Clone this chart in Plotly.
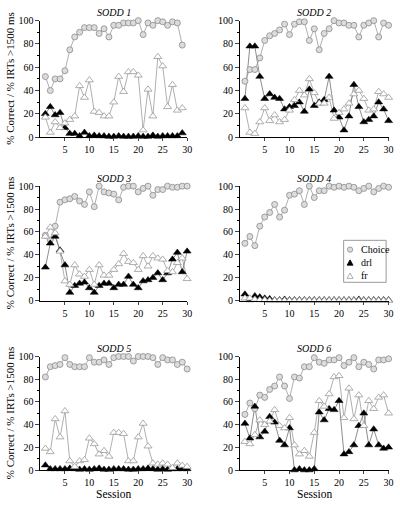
import plotly.graph_objects as go

sessions_29 = list(range(1, 30))
sessions_30 = list(range(1, 31))

# SODD 1 (29 sessions)
s1_choice = [52, 40, 50, 50, 57, 75, 86, 90, 94, 94, 94, 89, 93, 86, 96, 96, 98, 98, 98, 100, 88, 98, 96, 100, 99, 96, 99, 98, 79]
s1_drl = [20, 26, 19, 21, 8, 3, 3, 1, 4, 1, 1.5, 1, 1, 0.5, 0.5, 1, 0.5, 0.5, 0.5, 1, 0.5, 0.5, 1.5, 0.5, 1, 1, 1, 1, 3.5]
s1_fr = [17, 4, 13, 8, 12, 15, 18, 44, 34, 49, 22, 21, 18, 18, 30, 52, 39, 56, 56, 53, 6, 41, 18, 69, 61, 26, 45, 23, 25]

# SODD 2
s2_choice = [48, 58, 58, 68, 83, 87, 89, 92, 97, 88, 97, 99, 99, 83, 93, 75, 89, 93, 100, 98, 98, 96, 96, 86, 96, 98, 100, 86, 98, 96]
s2_drl = [33, 78, 78, 52, 33, 37, 34, 33, 24, 26, 27, 30, 22, 41, 27, 30, 32, 52, 23, 17, 6, 18, 45, 26, 13, 15, 18, 30, 24, 14]
s2_fr = [25, 4, 3, 13, 25, 14, 19, 13, 15, 23, 32, 40, 36, 50, 38, 29, 29, 34, 16, 21, 24, 29, 37, 40, 33, 23, 24, 39, 37, 34]

# SODD 3
s3_choice = [57, 53, 65, 86, 88, 89, 91, 87, 84, 95, 82, 100, 95, 94, 93, 88, 99, 100, 100, 95, 98, 100, 92, 97, 97, 100, 99, 99, 100, 100]
s3_drl = [29, 50, 56, 44, 31, 7, 13, 15, 16, 11, 7, 13, 15, 15, 11, 14, 14, 21, 14, 11, 17, 18, 20, 24, 18, 24, 36, 42, 25, 43]
s3_fr = [56, 64, 59, 43, 17, 14, 31, 23, 21, 27, 14, 31, 22, 22, 27, 32, 41, 34, 33, 27, 39, 30, 39, 37, 36, 26, 25, 33, 37, 19]

# SODD 4
s4_choice = [50, 56, 48, 65, 73, 77, 84, 73, 79, 92, 93, 96, 84, 100, 90, 96, 96, 100, 99, 100, 99, 100, 99, 96, 98, 100, 95, 98, 100, 99]
s4_drl = [5.5, 0.5, 4, 3, 2, 1.5, 0.5, 0.5, 1, 0.5, 0.5, 0.5, 0.5, 0.5, 0.5, 0.5, 0.5, 0.5, 0.5, 0.5, 0.5, 0.5, 0.5, 1, 0.5, 0.5, 0.5, 0.5, 0.5, 0.5]
s4_fr = [2, 2, 1, 0.5, 0.5, 0, 0, 0, 0, 0, 0, 0, 0, 0, 0, 0, 0, 0, 0, 0, 0, 0, 0, 0, 0, 0, 0, 0, 0, 0]

# SODD 5
s5_choice = [82, 91, 92, 93, 99, 93, 91, 91, 91, 99, 95, 95, 97, 93, 99, 100, 100, 100, 96, 100, 100, 100, 99, 93, 99, 97, 97, 93, 95, 89]
s5_drl = [4.3, 1, 1, 1, 1, 1.5, 1, 0.5, 1, 0.5, 1, 1.5, 0.5, 0.5, 1, 1, 1, 0.5, 0.5, 1, 1, 1.5, 1, 0.5, 1, 0.5, 1, 1, 1, 1]
s5_fr = [19, 16, 45, 29, 52, 8, 3, 8, 9, 28, 23, 14, 17, 12, 33, 33, 32, 8, 8, 29, 41, 21, 6, 5, 6, 5, 2, 6, 4, 3]

# SODD 6
s6_choice = [49, 59, 54, 66, 64, 71, 74, 82, 74, 63, 82, 81, 91, 91, 99, 95, 94, 97, 97, 99, 92, 95, 99, 91, 95, 93, 89, 97, 97, 98]
s6_drl = [41, 28, 56, 29, 34, 47, 42, 26, 22, 37, 0, 1, 0, 0, 1, 51, 44, 54, 53, 61, 14, 16, 22, 39, 50, 22, 36, 22, 19, 20]
s6_fr = [25, 23, 31, 44, 40, 43, 53, 39, 37, 46, 22, 14, 17, 12, 33, 61, 56, 67, 82, 83, 46, 72, 45, 66, 39, 61, 54, 64, 66, 50]

panel_names = ["SODD 1", "SODD 2", "SODD 3", "SODD 4", "SODD 5", "SODD 6"]
panel_sessions = [sessions_29, sessions_30, sessions_30, sessions_30, sessions_30, sessions_30]
choice_series = [s1_choice, s2_choice, s3_choice, s4_choice, s5_choice, s6_choice]
drl_series = [s1_drl, s2_drl, s3_drl, s4_drl, s5_drl, s6_drl]
fr_series = [s1_fr, s2_fr, s3_fr, s4_fr, s5_fr, s6_fr]
legend_labels = ["Choice", "drl", "fr"]

W, H = 400, 507
col_px = [(41, 189.5), (243, 393.5)]
row_px = [(15, 134.3), (184.5, 301.7), (359, 475.3)]  # (y of 100, y of 0)

FONT = "Liberation Serif, Times New Roman, serif"
LINE_GREY = "#9a9a9a"
CHOICE_FILL, CHOICE_LINE = "#dcdcdc", "#8a8a8a"
FR_LINE = "#9a9a9a"

fig = go.Figure()
layout = {}
annotations = []
shapes = []

for i, name in enumerate(panel_names):
    x = panel_sessions[i]
    choice, drl, fr = choice_series[i], drl_series[i], fr_series[i]
    r, c = divmod(i, 2)
    k = "" if i == 0 else str(i + 1)
    xa, ya = "x" + k, "y" + k
    x0, x1 = col_px[c]
    ytop, ybot = row_px[r]
    layout["xaxis" + k] = dict(
        domain=[x0 / W, x1 / W], range=[0, 30], anchor=ya,
        tickvals=[5, 10, 15, 20, 25, 30], ticks="outside", ticklen=3,
        showline=True, linecolor="black", linewidth=1, showgrid=False,
        zeroline=False, tickfont=dict(family=FONT, size=10, color="black"),
        fixedrange=True,
    )
    layout["yaxis" + k] = dict(
        domain=[1 - ybot / H, 1 - ytop / H], range=[0, 100], anchor=xa,
        tickvals=[0, 20, 40, 60, 80, 100], ticks="outside", ticklen=4,
        minor=dict(tickvals=[10, 30, 50, 70, 90], ticks="outside", ticklen=2, tickcolor="black"),
        showline=True, linecolor="black", linewidth=1, showgrid=False,
        zeroline=False, tickfont=dict(family=FONT, size=10, color="black"),
        fixedrange=True,
    )
    for ys, lc in ((fr, LINE_GREY), (drl, "#707070"), (choice, LINE_GREY)):
        fig.add_trace(go.Scatter(x=x, y=ys, mode="lines", xaxis=xa, yaxis=ya,
                                 line=dict(color=lc, width=0.8), showlegend=False,
                                 hoverinfo="skip", cliponaxis=False))
    fig.add_trace(go.Scatter(x=x, y=choice, mode="markers", name="Choice", xaxis=xa, yaxis=ya,
                             marker=dict(symbol="circle", size=6, color=CHOICE_FILL,
                                         line=dict(color=CHOICE_LINE, width=0.8)),
                             showlegend=False, cliponaxis=False))
    fig.add_trace(go.Scatter(x=x, y=drl, mode="markers", name="drl", xaxis=xa, yaxis=ya,
                             marker=dict(symbol="triangle-up", size=7, color="black",
                                         line=dict(color="black", width=0.5)),
                             showlegend=False, cliponaxis=False))
    fig.add_trace(go.Scatter(x=x, y=fr, mode="markers", name="fr", xaxis=xa, yaxis=ya,
                             marker=dict(symbol="triangle-up", size=7, color="white",
                                         line=dict(color=FR_LINE, width=0.8)),
                             showlegend=False, cliponaxis=False))
    annotations.append(dict(text="<i>" + name + "</i>", xref="paper", yref="paper",
                            x=(x0 + x1) / 2 / W, y=1 - (ytop - 8) / H, showarrow=False,
                            font=dict(family=FONT, size=10, color="black"),
                            xanchor="center", yanchor="middle"))
    if c == 0:
        annotations.append(dict(text="% Correct / % IRTs >1500 ms", xref="paper", yref="paper",
                                x=10 / W, y=1 - (ytop + ybot) / 2 / H, showarrow=False,
                                textangle=-90, font=dict(family=FONT, size=11, color="black"),
                                xanchor="center", yanchor="middle"))
    if r == 2:
        annotations.append(dict(text="Session", xref="paper", yref="paper",
                                x=(x0 + x1) / 2 / W, y=0, showarrow=False,
                                font=dict(family=FONT, size=11.5, color="black"),
                                xanchor="center", yanchor="bottom", borderpad=0))

# Legend box inside SODD 4 (drawn as a compact key)
bx0, bx1, by0, by1 = 348, 391, 240, 283
shapes.append(dict(type="rect", xref="paper", yref="paper",
                   x0=bx0 / W, x1=bx1 / W, y0=1 - by1 / H, y1=1 - by0 / H,
                   line=dict(color="#999999", width=1), fillcolor="white", layer="above"))
key_x = 354.5
key_ys = [249.5, 263, 276.5]
cy = key_ys[0]
shapes.append(dict(type="circle", xref="paper", yref="paper",
                   x0=(key_x - 2.7) / W, x1=(key_x + 2.7) / W,
                   y0=1 - (cy + 2.7) / H, y1=1 - (cy - 2.7) / H,
                   fillcolor=CHOICE_FILL, line=dict(color=CHOICE_LINE, width=0.8), layer="above"))
for ky, fill, lc in ((key_ys[1], "black", "black"), (key_ys[2], "white", FR_LINE)):
    p = "M {a},{b} L {c},{d} L {e},{f} Z".format(
        a=(key_x - 3) / W, b=1 - (ky + 2.5) / H,
        c=(key_x + 3) / W, d=1 - (ky + 2.5) / H,
        e=key_x / W, f=1 - (ky - 3) / H)
    shapes.append(dict(type="path", xref="paper", yref="paper", path=p,
                       fillcolor=fill, line=dict(color=lc, width=0.8), layer="above"))
for lbl, ky in zip(legend_labels, key_ys):
    annotations.append(dict(text=lbl, xref="paper", yref="paper",
                            x=364 / W, y=1 - ky / H, showarrow=False,
                            font=dict(family=FONT, size=10, color="black"),
                            xanchor="left", yanchor="middle"))

fig.update_layout(
    width=W, height=H, margin=dict(l=0, r=0, t=0, b=0),
    paper_bgcolor="white", plot_bgcolor="white",
    font=dict(family=FONT, size=10, color="black"),
    annotations=annotations, shapes=shapes, showlegend=False,
    hovermode=False,
    **layout,
)

fig.write_html(
    "out.html",
    config={"displayModeBar": False, "staticPlot": True},
    post_script="document.body.style.margin='0';document.body.style.overflow='hidden';",
)
